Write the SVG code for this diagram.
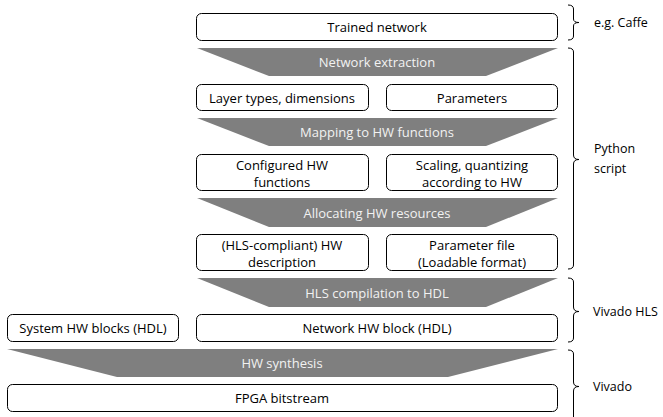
<svg xmlns="http://www.w3.org/2000/svg" width="663" height="417" viewBox="0 0 663 417">
  <style>
    .box { fill: #ffffff; stroke: #000000; stroke-width: 1; }
    .step { fill: #7f7f7f; stroke: none; }
    .t { font-family: "Open Sans", "Noto Sans", sans-serif; font-size: 13px; fill: #000000; text-anchor: middle; dominant-baseline: central; }
    .st { font-family: "Open Sans", "Noto Sans", sans-serif; font-size: 13px; fill: #f2f2f2; text-anchor: middle; dominant-baseline: central; }
    .lbl { font-family: "Open Sans", "Noto Sans", sans-serif; font-size: 12.5px; fill: #000000; dominant-baseline: central; }
    .brace { fill: none; stroke: #000000; stroke-width: 1; }
  </style>
  <rect width="663" height="417" fill="#ffffff"/>

  <!-- data boxes -->
  <g id="trained-network">
    <rect class="box" x="196.5" y="13.5" width="361" height="27" rx="5"/>
    <text class="t" x="377" y="27">Trained network</text>
  </g>
  <g id="layer-types">
    <rect class="box" x="196.5" y="84.5" width="172" height="26" rx="5"/>
    <text class="t" x="282" y="97.5">Layer types, dimensions</text>
  </g>
  <g id="parameters">
    <rect class="box" x="386.5" y="84.5" width="171" height="26" rx="5"/>
    <text class="t" x="472" y="97.5">Parameters</text>
  </g>
  <g id="configured-hw">
    <rect class="box" x="196.5" y="154.5" width="172" height="36" rx="5"/>
    <text class="t" x="282" y="164.5">Configured HW</text>
    <text class="t" x="282" y="181.5">functions</text>
  </g>
  <g id="scaling">
    <rect class="box" x="386.5" y="154.5" width="171" height="36" rx="5"/>
    <text class="t" x="472" y="164.5">Scaling, quantizing</text>
    <text class="t" x="472" y="181.5">according to HW</text>
  </g>
  <g id="hls-description">
    <rect class="box" x="196.5" y="234.5" width="172" height="36" rx="5"/>
    <text class="t" x="282" y="244.5">(HLS-compliant) HW</text>
    <text class="t" x="282" y="261.5">description</text>
  </g>
  <g id="parameter-file">
    <rect class="box" x="386.5" y="234.5" width="171" height="36" rx="5"/>
    <text class="t" x="472" y="244.5">Parameter file</text>
    <text class="t" x="472" y="261.5">(Loadable format)</text>
  </g>
  <g id="system-hw-blocks">
    <rect class="box" x="7.5" y="314.5" width="171" height="27" rx="5"/>
    <text class="t" x="93" y="328">System HW blocks (HDL)</text>
  </g>
  <g id="network-hw-block">
    <rect class="box" x="196.5" y="314.5" width="361" height="27" rx="5"/>
    <text class="t" x="377" y="328">Network HW block (HDL)</text>
  </g>
  <g id="fpga-bitstream">
    <rect class="box" x="7.5" y="384.5" width="550" height="27" rx="5"/>
    <text class="t" x="282" y="398">FPGA bitstream</text>
  </g>

  <!-- processing steps (funnels) -->
  <g id="network-extraction">
    <polygon class="step" points="197,48 558,48 486,76 269,76"/>
    <text class="st" x="377" y="62">Network extraction</text>
  </g>
  <g id="mapping">
    <polygon class="step" points="197,118 558,118 486,146 269,146"/>
    <text class="st" x="377" y="132">Mapping to HW functions</text>
  </g>
  <g id="allocating">
    <polygon class="step" points="197,198 558,198 486,227 269,227"/>
    <text class="st" x="377" y="212.5">Allocating HW resources</text>
  </g>
  <g id="hls-compilation">
    <polygon class="step" points="197,278 558,278 486,307 269,307"/>
    <text class="st" x="377" y="292.5">HLS compilation to HDL</text>
  </g>
  <g id="hw-synthesis">
    <polygon class="step" points="7,349 558,349 448,377 117,377"/>
    <text class="st" x="282" y="363">HW synthesis</text>
  </g>

  <!-- tool braces -->
  <g id="connectors">
    <path class="brace" d="M568,5 Q573.5,5 573.5,9 L573.5,19 Q573.5,22.5 579,22.5 Q573.5,22.5 573.5,26 L573.5,36 Q573.5,40 568,40"/>
    <path class="brace" d="M568,48 Q573.5,48 573.5,52 L573.5,155 Q573.5,159.5 579,159.5 Q573.5,159.5 573.5,164 L573.5,265 Q573.5,269 568,269"/>
    <path class="brace" d="M568,278 Q573.5,278 573.5,282 L573.5,307 Q573.5,311.5 579,311.5 Q573.5,311.5 573.5,316 L573.5,338 Q573.5,342 568,342"/>
    <path class="brace" d="M568,350 Q573.5,350 573.5,354 L573.5,382 Q573.5,386.5 579,386.5 Q573.5,386.5 573.5,391 L573.5,420"/>
  </g>
  <g id="tool-labels">
    <text class="lbl" x="594" y="22">e.g. Caffe</text>
    <text class="lbl" x="594" y="148">Python</text>
    <text class="lbl" x="594" y="168">script</text>
    <text class="lbl" x="593" y="311">Vivado HLS</text>
    <text class="lbl" x="593" y="386">Vivado</text>
  </g>
</svg>
